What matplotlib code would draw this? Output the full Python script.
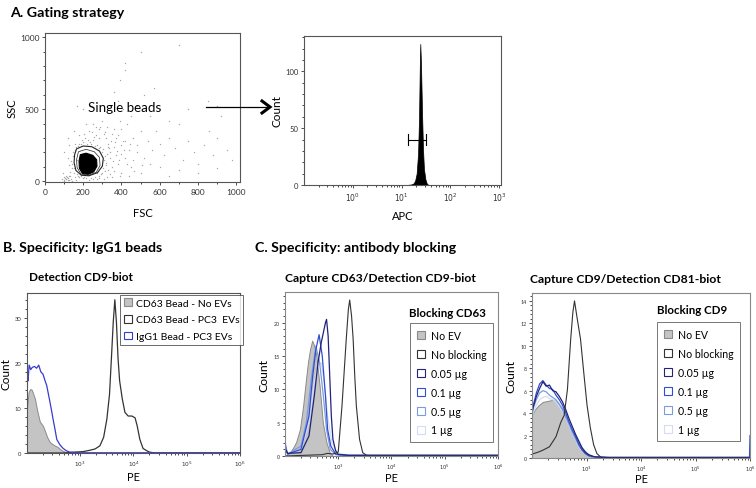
import numpy as np
import matplotlib
matplotlib.use('Agg')
import matplotlib.pyplot as plt
from matplotlib.patches import Polygon, Patch
from matplotlib.lines import Line2D
from matplotlib.ticker import LogLocator, NullFormatter, FixedLocator, MultipleLocator

plt.rcParams['font.family'] = ['Lato', 'DejaVu Sans']

# ---------------- data ----------------
# A: FSC/SSC scatter, hand placed events (FSC, SSC)
scat_events = [
    (140, 90), (150, 60), (165, 150), (180, 260), (190, 40), (200, 270), (210, 300), (240, 260),
    (250, 290), (270, 250), (290, 240), (300, 200), (310, 150), (320, 110), (330, 260), (320, 300),
    (340, 200), (350, 330), (360, 240), (370, 180), (330, 80), (300, 60), (280, 40), (260, 30),
    (240, 25), (200, 25), (180, 30), (130, 40), (120, 20), (110, 15), (100, 10), (115, 30),
    (125, 10), (105, 25), (135, 15), (380, 320), (400, 360), (390, 420), (420, 280), (440, 220),
    (460, 300), (480, 250), (500, 350), (430, 400), (450, 450), (410, 500), (380, 560), (350, 480),
    (360, 620), (390, 700), (420, 770), (480, 200), (520, 160), (540, 280), (560, 220), (600, 260),
    (580, 350), (620, 180), (650, 300), (680, 230), (700, 400), (720, 150), (750, 280), (780, 200),
    (800, 120), (830, 250), (860, 350), (880, 180), (900, 300), (920, 450), (950, 220), (980, 150),
    (700, 950), (500, 900), (420, 820), (600, 500), (650, 420), (550, 450), (480, 520), (520, 600),
    (570, 650), (750, 500), (850, 560), (900, 520), (200, 500), (170, 520), (250, 400), (280, 360),
    (230, 350), (300, 420), (150, 350), (120, 300), (100, 200), (600, 100), (700, 80), (800, 60),
    (900, 90), (650, 40), (450, 100), (400, 60), (500, 60), (550, 120), (460, 150), (380, 120),
    (420, 160), (310, 330), (345, 280), (265, 320), (225, 290), (195, 285), (160, 240), (145, 200),
    (355, 140), (375, 210), (335, 230), (395, 250), (410, 280), (290, 380), (270, 60), (315, 340),
    (255, 310), (235, 270), (325, 190), (365, 270), (305, 90), (285, 20), (215, 20), (175, 35),
    (155, 28), (108, 18), (118, 8), (98, 28), (128, 35), (112, 40),
    (142, 120), (148, 175), (158, 215), (172, 245), (188, 262), (222, 258), (262, 248), (282, 232),
    (302, 222), (312, 178), (318, 128), (316, 72), (292, 48), (252, 18), (205, 30), (168, 48),
    (150, 95), (132, 65), (138, 140), (155, 260), (205, 330), (245, 340), (285, 300), (330, 240),
    (342, 160), (352, 100), (340, 50), (322, 30), (362, 70), (385, 150), (372, 300), (398, 190),
    (412, 220), (428, 120), (445, 260), (362, 360), (325, 380), (265, 380), (215, 400), (180, 320),
    (128, 250), (118, 160), (124, 110), (95, 55), (90, 15), (102, 5), (140, 5), (160, 12),
    (230, 10), (270, 15), (310, 18), (350, 30), (392, 40), (438, 40), (468, 70), (505, 110)]
core_poly = [(185, 185), (215, 195), (250, 180), (270, 150), (272, 105), (255, 65), (225, 48),
             (195, 55), (180, 90), (178, 140)]
inner_contour = [(175, 205), (215, 222), (258, 205), (285, 165), (288, 110), (268, 62), (228, 42),
                 (188, 50), (168, 95), (165, 150)]
gate_poly = [(165, 225), (200, 245), (245, 240), (285, 210), (305, 160), (300, 105), (275, 60),
             (230, 38), (190, 42), (162, 75), (152, 130), (155, 185)]

# A: APC histogram (log10 APC, count)
apc_log = [-1.0, 0.5, 1.1, 1.2, 1.25, 1.28, 1.31, 1.34, 1.36, 1.375, 1.385, 1.40, 1.42, 1.44, 1.46, 1.49, 1.52, 1.56, 3.04]
apc_cnt = [0, 0, 0, 0.5, 1.5, 4, 10, 28, 60, 105, 124, 105, 65, 32, 14, 5, 1, 0, 0]
apc_gate = (1.14, 1.51, 40)

# B: Detection CD9-biot (log10 PE, count)
b_noev_log = [2.0, 2.03, 2.06, 2.09, 2.12, 2.15, 2.19, 2.24, 2.30, 2.34, 2.38, 2.43, 2.50, 2.58, 2.65, 2.71, 2.8, 6.0]
b_noev_cnt = [10, 13.5, 14.2, 14, 13, 12, 9.5, 7, 6, 4.8, 3.5, 2.4, 1.8, 1.3, 0.6, 0.3, 0, 0]
b_pc3_log = [2.0, 2.7, 2.9, 3.05, 3.18, 3.28, 3.37, 3.44, 3.5, 3.55, 3.59, 3.62, 3.65, 3.68, 3.71, 3.74,
             3.79, 3.84, 3.9, 3.97, 4.03, 4.07, 4.12, 4.18, 4.25, 4.3, 4.4, 6.0]
b_pc3_cnt = [0, 0, 0.2, 0.3, 0.6, 0.9, 1.6, 3.5, 7.5, 13, 22, 29, 34, 29, 21, 16, 12, 9, 8.2, 8.2, 7.8,
             6, 3, 1, 0.5, 0.2, 0, 0]
b_igg_log = [2.0, 2.005, 2.01, 2.02, 2.04, 2.07, 2.1, 2.14, 2.18, 2.22, 2.26, 2.3, 2.34, 2.37, 2.42, 2.46,
             2.49, 2.53, 2.56, 2.62, 2.68, 2.74, 2.8, 2.9, 3.0, 6.0]
b_igg_cnt = [21, 12, 18, 16, 19.5, 18.5, 19, 19.2, 18.8, 19.5, 18, 17.5, 16, 15, 12, 9.5, 7.5, 5, 3, 1.8,
             1, 0.5, 0.2, 0.1, 0.05, 0.05]

# C1: Capture CD63 / Detection CD9-biot, blocking CD63
c1_noev_log = [2.0, 2.09, 2.15, 2.21, 2.28, 2.34, 2.38, 2.43, 2.47, 2.51, 2.55, 2.59, 2.65, 2.71, 2.78, 2.84, 2.9, 6.0]
c1_noev_cnt = [0, 0.5, 1.2, 2.1, 4, 7.5, 10.5, 14, 16, 17.3, 16.5, 15, 10.5, 5, 2, 0.5, 0, 0]
c1_nobl_log = [2.0, 2.7, 2.8, 2.9, 3.0, 3.07, 3.11, 3.15, 3.19, 3.215, 3.25, 3.28, 3.31, 3.34, 3.4, 3.46, 3.55, 6.0]
c1_nobl_cnt = [0, 0.2, 0.4, 0.3, 0.6, 7.5, 12.5, 17.5, 22, 23.4, 21, 17.5, 12, 7.5, 2.5, 0.5, 0, 0]
c1_005_log = [2.0, 2.01, 2.05, 2.3, 2.45, 2.55, 2.62, 2.68, 2.72, 2.76, 2.78, 2.81, 2.84, 2.87, 2.9, 2.95, 3.0, 3.2, 6.0]
c1_005_cnt = [4, 1, 0.4, 0.5, 3, 9, 14, 17, 18.5, 20, 20.5, 18, 12, 6, 2.5, 0.8, 0.2, 0.1, 0.1]
c1_01_log = [2.0, 2.01, 2.05, 2.3, 2.45, 2.52, 2.58, 2.64, 2.7, 2.76, 2.8, 2.86, 2.95, 3.2, 6.0]
c1_01_cnt = [3.5, 1, 0.3, 1, 6, 12, 16, 18.2, 15, 9, 4, 1.5, 0.3, 0.1, 0.1]
c1_05_log = [2.0, 2.05, 2.3, 2.4, 2.5, 2.58, 2.65, 2.72, 2.78, 2.85, 2.95, 3.2, 6.0]
c1_05_cnt = [2, 0.3, 1.5, 5, 12, 16.5, 14, 9, 4, 1, 0.2, 0.1, 0.1]
c1_1_log = [2.0, 2.05, 2.3, 2.45, 2.55, 2.62, 2.68, 2.74, 2.8, 2.88, 2.98, 3.2, 6.0]
c1_1_cnt = [1.5, 0.3, 1, 5, 11, 13.5, 14, 11, 6, 2, 0.5, 0.1, 0.1]

# C2: Capture CD9 / Detection CD81-biot, blocking CD9
c2_noev_log = [2.0, 2.05, 2.12, 2.2, 2.3, 2.4, 2.48, 2.56, 2.62, 2.68, 2.74, 2.8, 2.86, 2.92, 2.98, 3.04, 3.12, 6.0]
c2_noev_cnt = [3.8, 4.3, 4.7, 5.0, 5.1, 5.2, 4.9, 4.4, 3.7, 3.0, 2.4, 1.8, 1.3, 0.9, 0.6, 0.3, 0, 0]
c2_nobl_log = [2.0, 2.1, 2.2, 2.32, 2.44, 2.53, 2.59, 2.65, 2.71, 2.75, 2.78, 2.83, 2.89, 2.95, 3.01, 3.07,
               3.13, 3.19, 3.28, 6.0]
c2_nobl_cnt = [0.35, 0.5, 0.7, 1.0, 1.9, 3.2, 3.8, 6.1, 10.6, 13, 14, 12.4, 10.6, 7.6, 4.7, 2.7, 1.2, 0.4,
               0, 0]
c2_005_log = [2.0, 2.005, 2.02, 2.08, 2.14, 2.2, 2.26, 2.32, 2.38, 2.44, 2.5, 2.56, 2.62, 2.68, 2.74, 2.8,
              2.86, 2.92, 2.98, 3.04, 3.15, 3.4, 6.0]
c2_005_cnt = [11, 4.2, 4.5, 5.5, 6.2, 6.8, 6.4, 6.5, 6.0, 5.9, 5.5, 5.0, 4.3, 3.5, 2.8, 2.1, 1.5, 0.9,
              0.5, 0.3, 0.1, 0.05, 0.05]
c2_01_log = [2.0, 2.005, 2.02, 2.08, 2.14, 2.2, 2.26, 2.32, 2.38, 2.44, 2.5, 2.56, 2.62, 2.68, 2.74, 2.8,
             2.86, 2.92, 2.98, 3.04, 3.15, 3.4, 5.99, 6.0]
c2_01_cnt = [9, 4.0, 4.6, 5.8, 6.6, 6.9, 6.5, 6.2, 6.1, 5.6, 5.2, 4.7, 4.0, 3.2, 2.5, 1.9, 1.2, 0.7,
             0.4, 0.2, 0.1, 0.05, 0.05, 2]
c2_05_log = [2.0, 2.02, 2.08, 2.14, 2.2, 2.26, 2.32, 2.38, 2.44, 2.5, 2.56, 2.62, 2.68, 2.74, 2.8,
             2.86, 2.92, 2.98, 3.04, 3.15, 3.4, 6.0]
c2_05_cnt = [3.8, 4.4, 5.2, 5.8, 6.0, 5.9, 5.6, 5.4, 5.2, 4.8, 4.3, 3.6, 3.0, 2.3, 1.7, 1.1, 0.7,
             0.4, 0.2, 0.1, 0.05, 0.05]
c2_1_log = [2.0, 2.02, 2.08, 2.14, 2.2, 2.26, 2.32, 2.38, 2.44, 2.5, 2.56, 2.62, 2.68, 2.74, 2.8,
            2.86, 2.92, 2.98, 3.04, 3.15, 3.4, 6.0]
c2_1_cnt = [3.5, 4.0, 4.7, 5.2, 5.4, 5.5, 5.3, 5.2, 5.0, 4.6, 4.1, 3.5, 2.9, 2.2, 1.6, 1.0, 0.6,
            0.4, 0.2, 0.1, 0.05, 0.05]

b_labels = ['CD63 Bead - No EVs', 'CD63 Bead - PC3  EVs', 'IgG1 Bead - PC3 EVs']
c_labels = ['No EV', 'No blocking', '0.05 \u00b5g', '0.1 \u00b5g', '0.5 \u00b5g', '1 \u00b5g']

# ---------------- style ----------------
GRAY_FILL = '#c4c4c4'
GRAY_EDGE = '#8a8a8a'
BLACK = '#333333'
C_005 = '#23237a'
C_01 = '#2f4fd0'
C_05 = '#7b9be0'
C_1 = '#d4dcf2'
B_BLUE = '#3a3ad0'
SPINE = '#555555'


def style_axes(ax, fs):
    for s in ax.spines.values():
        s.set_color(SPINE)
        s.set_linewidth(0.8)
    ax.tick_params(labelsize=fs, colors='#333333', length=2.5, width=0.6, pad=1.5)
    ax.tick_params(which='minor', length=1.5, width=0.5)


def log_xaxis(ax, lo, hi, labelled):
    ax.set_xscale('log')
    ax.set_xlim(10 ** lo, 10 ** hi)
    ax.xaxis.set_major_locator(FixedLocator([10.0 ** k for k in labelled]))
    ax.set_xticklabels(['$10^{%d}$' % k for k in labelled])
    ax.xaxis.set_minor_locator(LogLocator(base=10, subs=np.arange(2, 10), numticks=20))
    ax.xaxis.set_minor_formatter(NullFormatter())


def hist_line(ax, lg, cnt, color, lw=0.9):
    ax.plot(10.0 ** np.array(lg), cnt, color=color, lw=lw)


def hist_fill(ax, lg, cnt):
    x = 10.0 ** np.array(lg)
    ax.fill_between(x, cnt, 0, facecolor=GRAY_FILL, edgecolor=GRAY_EDGE, lw=0.7)


fig = plt.figure(figsize=(7.56, 4.89), dpi=100)

fig.text(0.013, 1 - 13 / 489, 'A. Gating strategy', fontsize=10.3, fontweight='bold', va='center')
fig.text(0.004, 1 - 248 / 489, 'B. Specificity: IgG1 beads', fontsize=10.2, fontweight='bold', va='center')
fig.text(0.337, 1 - 248 / 489, 'C. Specificity: antibody blocking', fontsize=10.2, fontweight='bold',
         va='center')

# ---- A1 scatter ----
ax = fig.add_axes([0.0595, 0.6258, 0.258, 0.3047])
style_axes(ax, 6)
sx, sy = zip(*scat_events)
ax.scatter(sx, sy, s=1.0, color='#a8a8a8', lw=0)
ax.add_patch(Polygon(core_poly, closed=True, facecolor='black', edgecolor='black', lw=0.8))
ax.add_patch(Polygon(inner_contour, closed=True, fill=False, edgecolor='#222222', lw=0.5))
ax.add_patch(Polygon(gate_poly, closed=True, fill=False, edgecolor='#222222', lw=0.8))
ax.set_xlim(0, 1020)
ax.set_ylim(-5, 1030)
ax.xaxis.set_major_locator(MultipleLocator(200))
ax.xaxis.set_minor_locator(MultipleLocator(100))
ax.yaxis.set_major_locator(MultipleLocator(500))
ax.yaxis.set_minor_locator(MultipleLocator(100))
ax.set_xlabel('FSC', fontsize=8, labelpad=9)
ax.set_ylabel('SSC', fontsize=8, labelpad=2)
ax.text(225, 513, 'Single beads', fontsize=9.6, va='center')

# arrow between the two gating plots: thin shaft, bold chevron head
ya = 1 - 108 / 489
fig.add_artist(Line2D([206 / 756, 268 / 756], [ya, ya], transform=fig.transFigure, color='black', lw=0.9))
fig.add_artist(Line2D([262 / 756, 270 / 756, 262 / 756], [ya + 6 / 489, ya, ya - 6 / 489],
                      transform=fig.transFigure, color='black', lw=2.2, solid_joinstyle='miter'))

# ---- A2 APC histogram ----
ax = fig.add_axes([0.4021, 0.6196, 0.2606, 0.3047])
style_axes(ax, 5.5)
x = 10.0 ** np.array(apc_log)
ax.fill_between(x, apc_cnt, 0, facecolor='black', edgecolor='black', lw=0.5)
log_xaxis(ax, -1, 3.04, [0, 1, 2, 3])
ax.set_ylim(0, 131)
ax.yaxis.set_major_locator(MultipleLocator(50))
ax.yaxis.set_minor_locator(MultipleLocator(10))
g0, g1, gy = apc_gate
ax.plot([10 ** g0, 10 ** g1], [gy, gy], color='black', lw=0.8)
ax.plot([10 ** g0, 10 ** g0], [gy - 5, gy + 5], color='black', lw=0.8)
ax.plot([10 ** g1, 10 ** g1], [gy - 5, gy + 5], color='black', lw=0.8)
ax.set_xlabel('APC', fontsize=8, labelpad=5)
ax.set_ylabel('Count', fontsize=8.5, labelpad=2)

# ---- B ----
ax = fig.add_axes([0.0357, 0.0716, 0.2817, 0.3272])
style_axes(ax, 4.2)
hist_fill(ax, b_noev_log, b_noev_cnt)
hist_line(ax, b_pc3_log, b_pc3_cnt, BLACK)
hist_line(ax, b_igg_log, b_igg_cnt, B_BLUE)
log_xaxis(ax, 2, 6, [3, 4, 5, 6])
ax.set_ylim(0, 35.5)
ax.yaxis.set_major_locator(MultipleLocator(10))
ax.yaxis.set_minor_locator(MultipleLocator(2))
ax.set_xlabel('PE', fontsize=8)
ax.xaxis.set_label_coords(0.5, -0.115)
ax.set_ylabel('Count', fontsize=8.5, labelpad=2)
ax.set_title('Detection CD9-biot', fontsize=8.5, fontweight='bold', loc='left', x=0.01, pad=9)
handles = [Patch(facecolor=GRAY_FILL, edgecolor=GRAY_EDGE, lw=0.8),
           Patch(facecolor='white', edgecolor=BLACK, lw=0.8),
           Patch(facecolor='white', edgecolor=B_BLUE, lw=0.8)]
leg = ax.legend(handles, b_labels, loc='upper right', bbox_to_anchor=(1.015, 0.99), fontsize=7.5,
                frameon=True, fancybox=False, handlelength=0.75, handleheight=0.75, handletextpad=0.4,
                labelspacing=0.7, borderpad=0.35, borderaxespad=0)
leg.get_frame().set_edgecolor('#444444')
leg.get_frame().set_linewidth(0.7)

# ---- C panels ----
c_handles = [Patch(facecolor=GRAY_FILL, edgecolor=GRAY_EDGE, lw=0.8),
             Patch(facecolor='white', edgecolor=BLACK, lw=0.8),
             Patch(facecolor='white', edgecolor=C_005, lw=0.8),
             Patch(facecolor='white', edgecolor=C_01, lw=0.8),
             Patch(facecolor='white', edgecolor=C_05, lw=0.8),
             Patch(facecolor='white', edgecolor=C_1, lw=0.8)]


def c_panel(rect, title, title_x, block, block_xy, leg_xy, label_y, curves, ymax, ymaj):
    ax = fig.add_axes(rect)
    style_axes(ax, 3.8)
    for s in ax.spines.values():
        s.set_color('#888888')
    noev, nobl, c005, c01, c05, c1 = curves
    hist_fill(ax, *noev)
    hist_line(ax, *c1, C_1)
    hist_line(ax, *c05, C_05)
    hist_line(ax, *c01, C_01)
    hist_line(ax, *c005, C_005)
    hist_line(ax, *nobl, BLACK, lw=0.8)
    log_xaxis(ax, 2, 6, [3, 4, 5, 6])
    ax.set_ylim(0, ymax)
    ax.yaxis.set_major_locator(MultipleLocator(ymaj))
    ax.yaxis.set_minor_locator(MultipleLocator(ymaj / 5))
    ax.set_xlabel('PE', fontsize=8)
    ax.xaxis.set_label_coords(0.5, label_y)
    ax.set_ylabel('Count', fontsize=8.8, labelpad=3)
    ax.set_title(title, fontsize=8.7, fontweight='bold', x=title_x, pad=8)
    ax.text(block_xy[0], block_xy[1], block, transform=ax.transAxes, fontsize=8.3, fontweight='bold',
            ha='center', va='center')
    leg = ax.legend(c_handles, c_labels, loc='upper right', bbox_to_anchor=leg_xy, fontsize=7.6,
                    frameon=True, fancybox=False, handlelength=0.75, handleheight=0.75,
                    handletextpad=0.55, labelspacing=0.75, borderpad=0.65, borderaxespad=0)
    leg.get_frame().set_edgecolor('#555555')
    leg.get_frame().set_linewidth(0.7)
    return ax


c_panel([0.377, 0.0654, 0.2817, 0.3354], 'Capture CD63/Detection CD9-biot', 0.45,
        'Blocking CD63', (0.765, 0.878), (0.977, 0.811), -0.1,
        [(c1_noev_log, c1_noev_cnt), (c1_nobl_log, c1_nobl_cnt), (c1_005_log, c1_005_cnt),
         (c1_01_log, c1_01_cnt), (c1_05_log, c1_05_cnt), (c1_1_log, c1_1_cnt)], 24.6, 5)
c_panel([0.7037, 0.0613, 0.2884, 0.3374], 'Capture CD9/Detection CD81-biot', 0.43,
        'Blocking CD9', (0.734, 0.903), (0.954, 0.824), -0.088,
        [(c2_noev_log, c2_noev_cnt), (c2_nobl_log, c2_nobl_cnt), (c2_005_log, c2_005_cnt),
         (c2_01_log, c2_01_cnt), (c2_05_log, c2_05_cnt), (c2_1_log, c2_1_cnt)], 14.7, 2)

plt.savefig('out.png', dpi=100)
